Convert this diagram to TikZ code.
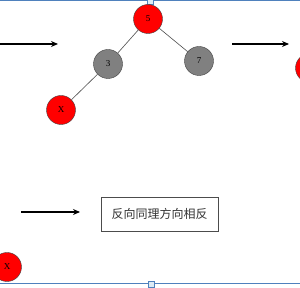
\documentclass[tikz,border=0pt]{standalone}
\usepackage{fontspec}
\setmainfont{Liberation Serif}
\newfontfamily\cjk{Noto Sans CJK SC}
\usetikzlibrary{arrows.meta,positioning}
\definecolor{rbred}{RGB}{255,0,0}
\definecolor{rbgray}{RGB}{128,128,128}
\definecolor{selblue}{RGB}{79,129,189}
\definecolor{selfill}{RGB}{220,235,245}
\tikzset{
  rednode/.style={circle,draw=black!75,fill=rbred,minimum size=29pt,inner sep=0pt,font=\fontsize{9}{9}\selectfont},
  graynode/.style={circle,draw=black!75,fill=rbgray,minimum size=29pt,inner sep=0pt,font=\fontsize{9}{9}\selectfont},
  tree/.style={draw=black!70,line width=0.6pt},
  move/.style={-{Stealth[length=7pt,width=6pt]},line width=1.2pt},
  handle/.style={draw=selblue,fill=selfill,minimum size=6pt,inner sep=0pt,line width=0.6pt}
}
\begin{document}
\begin{tikzpicture}[x=1pt,y=-1pt]
 \useasboundingbox (0,0) rectangle (300,288);
 \clip (0,0) rectangle (300,288);
 % selection frame
 \draw[selblue,line width=1pt] (0,1) -- (300,1);
 \draw[selblue,line width=1pt] (0,284) -- (300,284);
 \node[handle] (htop) at (150,1) {};
 \node[handle] (hbot) at (151,284) {};
 % tree
 \node[rednode] (n5) at (148,19) {5};
 \node[graynode] (n3) at (108,64) {3};
 \node[graynode] (n7) at (199,61) {7};
 \node[rednode] (nx) at (61,110) {X};
 \draw[tree] (n5) -- (n3);
 \draw[tree] (n5) -- (n7);
 \draw[tree] (n3) -- (nx);
 % cut-off nodes at the edges
 \node[rednode] (nr) at (310,68) {};
 \node[rednode] (nb) at (7,267) {X};
 \coordinate (nbp) at (-8,250);
 \draw[tree] (nb) -- (nbp);
 % arrows
 \coordinate (a1s) at (0,44);  \coordinate (a1e) at (58,44);
 \coordinate (a2s) at (232,44); \coordinate (a2e) at (289,44);
 \coordinate (a3s) at (21,212); \coordinate (a3e) at (80,212);
 \draw[move] (a1s) -- (a1e);
 \draw[move] (a2s) -- (a2e);
 \draw[move] (a3s) -- (a3e);
 % note
 \node[draw=black!70,line width=0.9pt,minimum width=117pt,minimum height=34pt,inner sep=0pt,
       font=\cjk\fontsize{12}{12}\selectfont,text=black!80] (note) at (159.5,214) {反向同理方向相反};
\end{tikzpicture}
\end{document}
